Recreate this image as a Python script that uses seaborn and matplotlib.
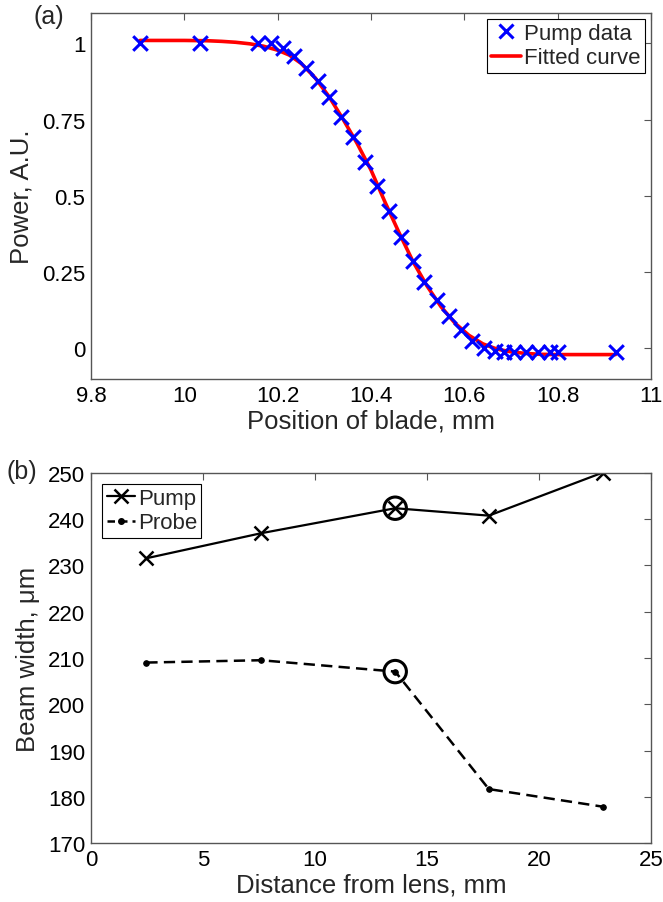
import numpy as np
import pandas as pd
import matplotlib
matplotlib.use("Agg")
import matplotlib.pyplot as plt
import seaborn as sns
from matplotlib.lines import Line2D

# ---------------- data (a) ----------------
blade_pos = [9.905, 10.033, 10.158, 10.186, 10.211, 10.236, 10.260, 10.286, 10.311,
             10.336, 10.362, 10.388, 10.413, 10.438, 10.464, 10.489, 10.514, 10.541,
             10.567, 10.592, 10.617, 10.642, 10.666, 10.684, 10.707, 10.733, 10.758,
             10.783, 10.801, 10.924]
pump_power = [1.0, 1.0, 1.0, 1.0, 0.985, 0.960, 0.919, 0.877, 0.823,
              0.760, 0.695, 0.613, 0.533, 0.450, 0.367, 0.286, 0.218, 0.160,
              0.106, 0.062, 0.024, 0.002, -0.009, -0.012, -0.012, -0.012, -0.012,
              -0.012, -0.012, -0.012]
fit_pos = [9.905, 10.0, 10.05, 10.08, 10.11, 10.14, 10.17, 10.20, 10.225, 10.25, 10.28,
           10.31, 10.34, 10.37, 10.40, 10.43, 10.46, 10.49, 10.52, 10.55, 10.58, 10.61,
           10.64, 10.67, 10.70, 10.73, 10.76, 10.80, 10.85, 10.924]
fit_power = [1.01, 1.01, 1.009, 1.007, 1.004, 0.999, 0.991, 0.978, 0.962, 0.935, 0.888,
             0.826, 0.752, 0.673, 0.585, 0.48, 0.38, 0.285, 0.205, 0.137, 0.083, 0.043,
             0.015, -0.002, -0.011, -0.016, -0.019, -0.02, -0.02, -0.02]

# ---------------- data (b) ----------------
lens_dist = [2.47, 7.59, 13.58, 17.76, 22.85]
pump_width = [231.5, 236.9, 242.3, 240.7, 250.0]
probe_width = [209.0, 209.5, 207.05, 181.7, 177.9]
highlight_idx = 2

xticks_a = [9.8, 10, 10.2, 10.4, 10.6, 10.8, 11]
yticks_a = [0, 0.25, 0.5, 0.75, 1]
xticks_b = [0, 5, 10, 15, 20, 25]
yticks_b = [170, 180, 190, 200, 210, 220, 230, 240, 250]

sns.set_style("white")
plt.rcParams['font.family'] = ['Liberation Sans', 'DejaVu Sans']

fig = plt.figure(figsize=(6.63, 9.03), dpi=100)
ax1 = fig.add_axes([0.1373, 0.5792, 0.8446, 0.4053])
ax2 = fig.add_axes([0.1373, 0.0650, 0.8446, 0.4106])

spine_col = '#555555'
for ax in (ax1, ax2):
    for s in ax.spines.values():
        s.set_visible(True)
        s.set_color(spine_col)
        s.set_linewidth(1.0)
    ax.tick_params(direction='in', length=5, width=0.8, color=spine_col,
                   top=True, right=True, labelsize=16, labelcolor='black', pad=4)

# ---- panel (a)
dfa = pd.DataFrame({'x': blade_pos, 'y': pump_power})
dff = pd.DataFrame({'x': fit_pos, 'y': fit_power})
sns.lineplot(data=dff, x='x', y='y', ax=ax1, color='red', linewidth=2.6, sort=True,
             zorder=2)
sns.scatterplot(data=dfa, x='x', y='y', ax=ax1, marker='x', color='blue', s=110,
                linewidth=2.2, zorder=3)
ax1.set_xlim(9.8, 11)
ax1.set_ylim(-0.1, 1.1)
ax1.set_xticks(xticks_a)
ax1.set_xticklabels([f"{v:g}" for v in xticks_a])
ax1.set_yticks(yticks_a)
ax1.set_yticklabels([f"{v:g}" for v in yticks_a])
ax1.set_xlabel("Position of blade, mm", fontsize=18.5, labelpad=2)
ax1.set_ylabel("Power, A.U.", fontsize=18.5, labelpad=6)
h1 = [Line2D([], [], color='blue', marker='x', linestyle='none', markersize=10,
             markeredgewidth=2.2),
      Line2D([], [], color='red', linewidth=2.6)]
leg1 = ax1.legend(h1, ["Pump data", "Fitted curve"], loc='upper right', fontsize=16,
                  frameon=True, fancybox=False, edgecolor='black', framealpha=1,
                  handlelength=1.35, handletextpad=0.15, borderpad=0.2,
                  labelspacing=0.15, borderaxespad=0.25)
leg1.get_frame().set_linewidth(0.8)

# ---- panel (b)
dfp = pd.DataFrame({'x': lens_dist, 'y': pump_width})
dfq = pd.DataFrame({'x': lens_dist, 'y': probe_width})
sns.lineplot(data=dfp, x='x', y='y', ax=ax2, color='black', linewidth=1.6,
             marker='x', markersize=10, markeredgewidth=1.8, markeredgecolor='black')
sns.lineplot(data=dfq, x='x', y='y', ax=ax2, color='black', linewidth=1.8,
             linestyle=(0, (4.5, 2.5)), marker='o', markersize=4,
             markeredgecolor='black', markerfacecolor='black')
dfh = pd.DataFrame({'x': [lens_dist[highlight_idx]] * 2,
                    'y': [pump_width[highlight_idx], probe_width[highlight_idx]]})
sns.scatterplot(data=dfh, x='x', y='y', ax=ax2, marker='o', s=260,
                facecolor='none', edgecolor='black', linewidth=2.2, zorder=4)
ax2.set_xlim(0, 25)
ax2.set_ylim(170, 250)
ax2.set_xticks(xticks_b)
ax2.set_yticks(yticks_b)
ax2.set_xlabel("Distance from lens, mm", fontsize=18.5, labelpad=2)
ax2.set_ylabel("Beam width, μm", fontsize=18.5, labelpad=6)
h2 = [Line2D([], [], color='black', marker='x', linewidth=1.6, markersize=10,
             markeredgewidth=1.8),
      Line2D([], [], color='black', marker='o', linewidth=1.8, markersize=4,
             linestyle=(0, (3, 2)))]
leg2 = ax2.legend(h2, ["Pump", "Probe"], loc='upper left', fontsize=16,
                  frameon=True, fancybox=False, edgecolor='black', framealpha=1,
                  handlelength=1.3, handletextpad=0.1, borderpad=0.2,
                  labelspacing=0.15, borderaxespad=0.5)
leg2.get_frame().set_linewidth(0.8)

fig.text(49 / 663, 1 - 17 / 903, "(a)", fontsize=18, ha='center', va='center')
fig.text(22 / 663, 1 - 472 / 903, "(b)", fontsize=18, ha='center', va='center')

fig.savefig("out.png", dpi=100)
